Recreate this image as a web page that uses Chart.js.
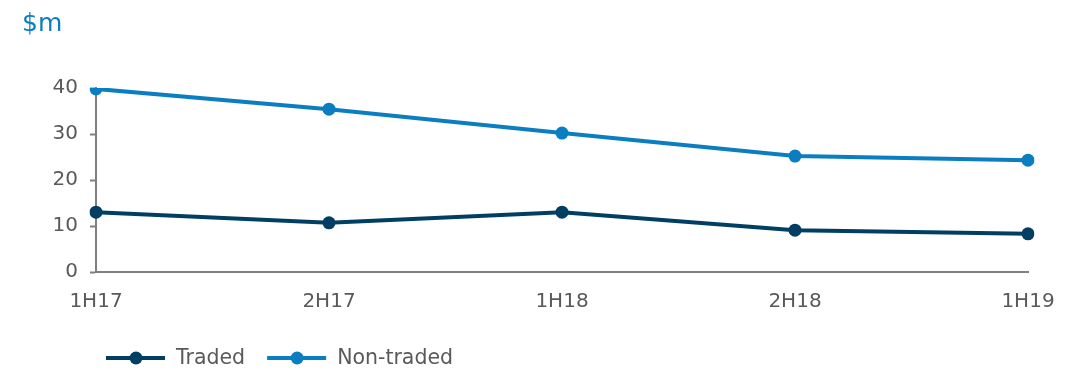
<!DOCTYPE html>
<html>
<head>
<meta charset="utf-8">
<script src="https://cdn.jsdelivr.net/npm/chart.js@4"></script>
<style>
  html, body { margin: 0; padding: 0; background: #fff; }
  #wrap { width: 1087px; height: 373px; position: relative; }
</style>
</head>
<body>
<div id="wrap"><canvas id="myChart"></canvas></div>
<script>
  // Data per half-year
  var periods = ["1H17", "2H17", "1H18", "2H18", "1H19"];
  var traded = [13.0, 10.7, 13.0, 9.1, 8.3];
  var nonTraded = [39.8, 35.4, 30.2, 25.2, 24.3];
  var yTicks = [0, 10, 20, 30, 40];

  var navy = '#013e63';
  var blue = '#0a7ec1';
  var grey = '#595959';
  var fontFamily = "'DejaVu Sans', Verdana, sans-serif";

  // Legend drawn as line + dot, sitting under the axis
  var lineLegend = {
    id: 'lineLegend',
    afterDraw: function (chart) {
      var ctx = chart.ctx;
      var x = 106, y = 358;
      ctx.save();
      ctx.font = '20.5px ' + fontFamily;
      ctx.textBaseline = 'middle';
      chart.data.datasets.forEach(function (ds) {
        ctx.strokeStyle = ds.borderColor;
        ctx.lineWidth = 4;
        ctx.beginPath();
        ctx.moveTo(x, y);
        ctx.lineTo(x + 59, y);
        ctx.stroke();
        ctx.fillStyle = ds.borderColor;
        ctx.beginPath();
        ctx.arc(x + 30, y, 6.5, 0, Math.PI * 2);
        ctx.fill();
        ctx.fillStyle = grey;
        ctx.fillText(ds.label, x + 70, y + 1);
        x += 70 + ctx.measureText(ds.label).width + 22;
      });
      ctx.restore();
    }
  };

  var ctx = document.getElementById('myChart').getContext('2d');
  var myChart = new Chart(ctx, {
    type: 'line',
    data: {
      labels: periods,
      datasets: [
        {
          label: 'Traded',
          data: traded,
          borderColor: navy,
          backgroundColor: navy,
          borderWidth: 4,
          pointRadius: 6.5,
          pointBorderWidth: 0,
          tension: 0
        },
        {
          label: 'Non-traded',
          data: nonTraded,
          borderColor: blue,
          backgroundColor: blue,
          borderWidth: 4,
          pointRadius: 6.5,
          pointBorderWidth: 0,
          tension: 0
        }
      ]
    },
    options: {
      responsive: true,
      maintainAspectRatio: false,
      animation: false,
      layout: {
        padding: { left: 22, right: 59, top: 0, bottom: 50 }
      },
      plugins: {
        legend: { display: false },
        tooltip: { enabled: false },
        title: {
          display: true,
          text: '$m',
          align: 'start',
          color: blue,
          font: { family: fontFamily, size: 25, weight: 'normal' },
          padding: { top: 9, bottom: 49 }
        }
      },
      scales: {
        x: {
          offset: false,
          grid: { display: false },
          border: { display: true, color: '#7f7f7f', width: 2 },
          ticks: {
            color: grey,
            padding: 10,
            maxRotation: 0,
            font: { family: fontFamily, size: 20 }
          },
          afterFit: function (scale) { scale.height = 51; }
        },
        y: {
          min: 0,
          max: 40,
          afterBuildTicks: function (scale) {
            scale.ticks = yTicks.map(function (v) { return { value: v }; });
          },
          grid: {
            drawOnChartArea: false,
            drawTicks: true,
            tickLength: 6,
            tickWidth: 2,
            color: '#7f7f7f'
          },
          border: { display: true, color: '#7f7f7f', width: 2 },
          ticks: {
            color: grey,
            padding: 12,
            font: { family: fontFamily, size: 20 }
          },
          afterFit: function (scale) { scale.width = 74; }
        }
      }
    },
    plugins: [lineLegend]
  });
</script>
</body>
</html>
